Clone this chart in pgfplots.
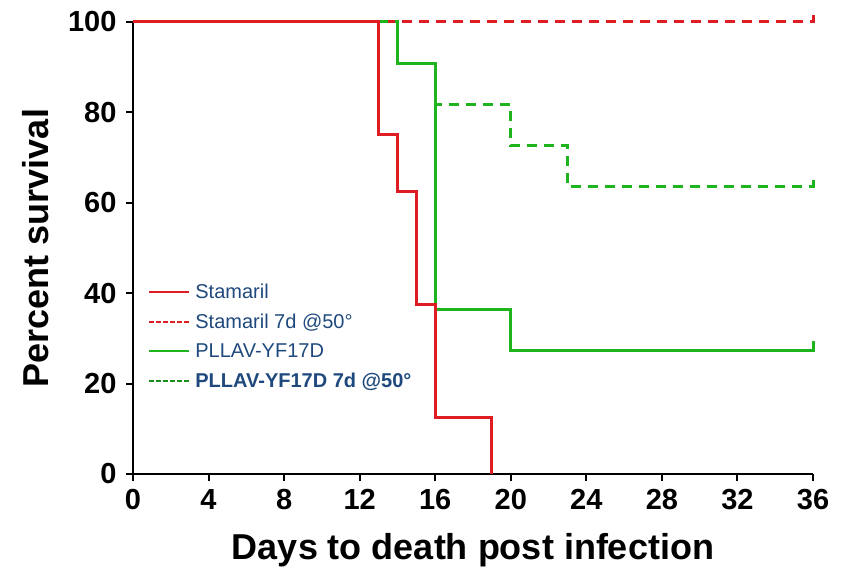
\documentclass[border=0pt]{standalone}
\usepackage{pgfplots}
\pgfplotsset{compat=1.18}
\usepackage{fontspec}
\setmainfont{Liberation Sans}
\definecolor{cred}{RGB}{222,28,36}
\definecolor{cgreen}{RGB}{30,180,30}
\definecolor{ctext}{RGB}{31,73,125}
\begin{document}
\begin{tikzpicture}
\begin{axis}[
  scale only axis,
  width=680pt, height=452pt,
  xmin=0, xmax=36, ymin=0, ymax=100,
  axis lines=left,
  axis line style={line width=2.6pt, -},
  xtick={0,4,...,36}, ytick={0,20,...,100},
  tick style={line width=2pt, black},
  tick align=outside,
  major tick length=7pt,
  /pgf/number format/assume math mode=true,
  ticklabel style={font=\fontsize{29}{32}\selectfont\bfseries},
  xticklabel style={yshift=-5pt},
  yticklabel style={xshift=-6pt},
  xlabel={Days to death post infection},
  ylabel={Percent survival},
  label style={font=\fontsize{36}{40}\selectfont\bfseries, inner sep=0pt},
  xlabel style={at={(axis description cs:0.5,-0.190)}, anchor=base},
  ylabel style={at={(axis description cs:-0.124,0.5)}, anchor=south},
  clip=false,
  legend cell align=left,
  legend style={at={(0.022,0.426)}, anchor=north west, draw=none, fill=none,
    font=\fontsize{20}{22}\selectfont, text=ctext, row sep=10pt, inner sep=0pt,
    nodes={inner xsep=5pt}},
  legend image code/.code={\draw[#1] (0pt,0pt) -- (40pt,0pt);},
]
\addplot[cgreen, line width=3pt, dash pattern=on 10pt off 7pt, forget plot] coordinates {(13,100) (14,100) (14,90.9) (16,90.9) (16,81.8) (20,81.8) (20,72.7) (23,72.7) (23,63.6) (36,63.6) (36,65.8)};
\addplot[cgreen, line width=3pt, forget plot] coordinates {(13,100) (14,100) (14,90.9) (16,90.9) (16,36.4) (20,36.4) (20,27.3) (36,27.3) (36,29.5)};
\addplot[cred, line width=3pt, dash pattern=on 10pt off 7pt, dash phase=3pt, forget plot] coordinates {(13.5,100) (36,100) (36,102)};
\addplot[cred, line width=3pt, forget plot] coordinates {(0,100) (13,100) (13,75) (14,75) (14,62.5) (15,62.5) (15,37.5) (16,37.5) (16,12.5) (19,12.5) (19,0)};
\addlegendimage{draw=cred, line width=2.2pt}
\addlegendentry{Stamaril}
\addlegendimage{draw=cred, line width=2.2pt, dash pattern=on 4.5pt off 2.5pt}
\addlegendentry{Stamaril 7d @50°}
\addlegendimage{draw=cgreen, line width=2.2pt}
\addlegendentry{PLLAV-YF17D}
\addlegendimage{draw=cgreen!80!black, line width=2.2pt, dash pattern=on 4.5pt off 2.5pt}
\addlegendentry{\textbf{PLLAV-YF17D 7d @50°}}
\path (rel axis cs:1,1) ++(37pt,22pt);
\path (rel axis cs:0,0) ++(-133pt,-98pt);
\end{axis}
\end{tikzpicture}
\end{document}
